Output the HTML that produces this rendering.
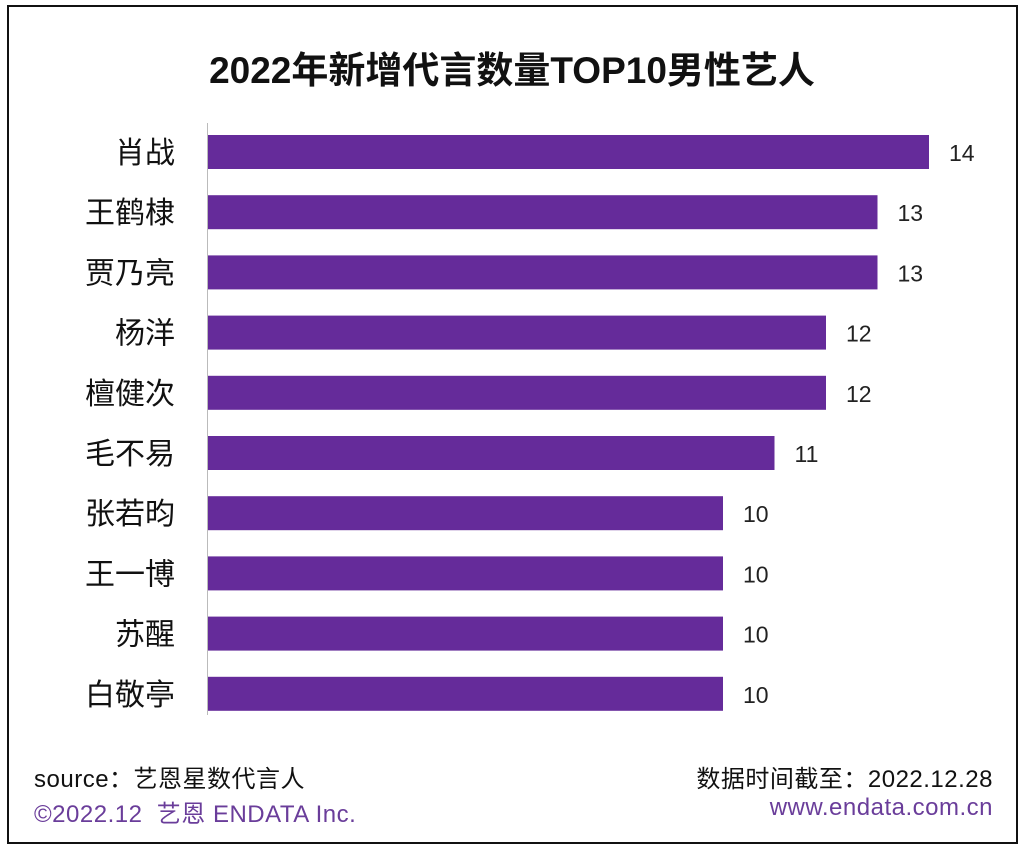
<!DOCTYPE html>
<html><head><meta charset="utf-8">
<style>
html,body{margin:0;padding:0;background:#fff;}
body{width:1024px;height:850px;position:relative;overflow:hidden;font-family:"Liberation Sans","Noto Sans CJK SC",sans-serif;}
.frame{position:absolute;left:7px;top:5px;width:1007px;height:835px;border:2px solid #111;}
.t{position:absolute;white-space:nowrap;}
</style></head>
<body>
<div class="frame"></div>
<div class="t" style="left:0;width:1024px;text-align:center;top:40px;font-size:37px;font-weight:bold;color:#111;">2022年新增代言数量TOP10男性艺人</div>
<svg id="chart" width="1024" height="850" style="position:absolute;left:0;top:0">
<line x1="207.5" y1="123" x2="207.5" y2="715" stroke="#bbb" stroke-width="1"/>
</svg>
<div class="t" style="left:34px;top:759px;font-size:24px;letter-spacing:0.5px;color:#111;">source：艺恩星数代言人</div>
<div class="t" style="left:34px;top:794px;font-size:24px;letter-spacing:0.5px;color:#6a3d9a;">©2022.12&nbsp; 艺恩 ENDATA Inc.</div>
<div class="t" style="right:31px;top:759px;font-size:24px;letter-spacing:0.5px;color:#111;">数据时间截至：2022.12.28</div>
<div class="t" style="right:31px;top:794px;font-size:24px;letter-spacing:0.5px;color:#6a3d9a;">www.endata.com.cn</div>
<script>
const categories=["肖战","王鹤棣","贾乃亮","杨洋","檀健次","毛不易","张若昀","王一博","苏醒","白敬亭"];
const values=[14,13,13,12,12,11,10,10,10,10];
const svg=document.getElementById('chart');
const NS='http://www.w3.org/2000/svg';
const x0=208,unit=51.5;
const xs=v=>x0+v*unit;
const ys=i=>152+i*60.2;
categories.forEach((c,i)=>{
  const y=ys(i);
  const r=document.createElementNS(NS,'rect');
  r.setAttribute('x',x0);r.setAttribute('y',y-17);
  r.setAttribute('width',xs(values[i])-x0);r.setAttribute('height',34);
  r.setAttribute('fill','#652b9a');
  
  
  svg.appendChild(r);
  const l=document.createElementNS(NS,'text');
  l.setAttribute('x',175);l.setAttribute('y',y+11);
  l.setAttribute('text-anchor','end');l.setAttribute('font-size','30');l.setAttribute('fill','#111');
  l.setAttribute('font-family','"Liberation Sans","Noto Sans CJK SC",sans-serif');
  l.textContent=c;
  
  
  svg.appendChild(l);
  const v=document.createElementNS(NS,'text');
  v.setAttribute('x',xs(values[i])+20);v.setAttribute('y',y+9);
  v.setAttribute('font-size','23');v.setAttribute('fill','#222');
  v.setAttribute('font-family','"Liberation Sans",sans-serif');
  v.textContent=values[i];
  
  
  svg.appendChild(v);
});
</script>
</body></html>
